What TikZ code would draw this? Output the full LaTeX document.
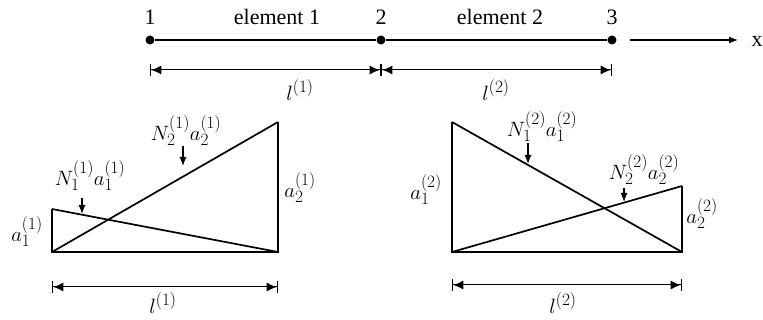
\documentclass[tikz,border=0pt]{standalone}
\usepackage{fontspec}
\setmainfont{Liberation Serif}
\DeclareMathSizes{22}{22}{17}{13}
\usetikzlibrary{arrows.meta}
\begin{document}
\begin{tikzpicture}[x=1pt,y=-1pt,
  font=\fontsize{22}{26}\selectfont,
  dot/.style={circle,fill,inner sep=0pt,minimum size=9pt},
  mainline/.style={line width=2.4pt},
  edge/.style={line width=1.7pt},
  dimline/.style={line width=1pt,{Bar[width=12pt,line width=1.4pt]Latex[length=10pt,width=9pt]}-{Latex[length=10pt,width=9pt]Bar[width=12pt,line width=1.4pt]}},
  ptr/.style={-{Latex[length=9pt,width=7pt]},line width=1.2pt},
  lbl/.style={inner sep=1pt}]
\useasboundingbox (0,0) rectangle (763,320);
% top mesh
\node[dot] (n1) at (150,40) {};
\node[dot] (n2) at (381,40) {};
\node[dot] (n3) at (612,40) {};
\draw[mainline] (n1) -- (n2) -- (n3);
\node[lbl] (t1) at (150,17) {1};
\node[lbl] (t2) at (381,17) {2};
\node[lbl] (t3) at (612,17) {3};
\node[lbl] (e1) at (277,17) {element 1};
\node[lbl] (e2) at (500,17) {element 2};
\coordinate (xs) at (630,40);
\coordinate (xe) at (738,40);
\draw[ptr] (xs) -- (xe);
\node[lbl] (xl) at (757,41) {x};
\coordinate (d1) at (150,70);
\coordinate (d2) at (381,70);
\coordinate (d3) at (612,70);
\draw[dimline] (d1) -- (d2);
\draw[dimline] (d2) -- (d3);
\node[lbl] (L1) at (300,90) {$l^{(1)}$};
\node[lbl] (L2) at (496,90) {$l^{(2)}$};
% left triangle diagram
\coordinate (A0) at (52,252);
\coordinate (A1) at (52,209);
\coordinate (B0) at (278,252);
\coordinate (B1) at (278,122);
\draw[edge] (A1) -- (A0) -- (B0) -- (B1);
\draw[edge] (A1) -- (B0);
\draw[edge] (A0) -- (B1);
\node[lbl] (la1) at (27,232) {$a_1^{(1)}$};
\node[lbl] (la2) at (300,188) {$a_2^{(1)}$};
\node[lbl] (lN1) at (90,176) {$N_1^{(1)}a_1^{(1)}$};
\node[lbl] (lN2) at (186,131) {$N_2^{(1)}a_2^{(1)}$};
\coordinate (p1a) at (82,198);
\coordinate (p1b) at (82,214);
\draw[ptr] (p1a) -- (p1b);
\coordinate (p2a) at (183,146);
\coordinate (p2b) at (183,166);
\draw[ptr] (p2a) -- (p2b);
\coordinate (f1) at (52,287);
\coordinate (f2) at (278,287);
\draw[dimline] (f1) -- (f2);
\node[lbl] (L3) at (163,303) {$l^{(1)}$};
% right triangle diagram
\coordinate (C0) at (452,252);
\coordinate (C1) at (452,122);
\coordinate (D0) at (682,252);
\coordinate (D1) at (682,186);
\draw[edge] (C1) -- (C0) -- (D0) -- (D1);
\draw[edge] (C1) -- (D0);
\draw[edge] (C0) -- (D1);
\node[lbl] (ra1) at (426,190) {$a_1^{(2)}$};
\node[lbl] (ra2) at (702,214) {$a_2^{(2)}$};
\node[lbl] (rN1) at (542,127) {$N_1^{(2)}a_1^{(2)}$};
\node[lbl] (rN2) at (644,170) {$N_2^{(2)}a_2^{(2)}$};
\coordinate (q1a) at (528,143);
\coordinate (q1b) at (528,164);
\draw[ptr] (q1a) -- (q1b);
\coordinate (q2a) at (624,188);
\coordinate (q2b) at (624,202);
\draw[ptr] (q2a) -- (q2b);
\coordinate (g1) at (452,285);
\coordinate (g2) at (682,285);
\draw[dimline] (g1) -- (g2);
\node[lbl] (L4) at (563,303) {$l^{(2)}$};
\end{tikzpicture}
\end{document}
